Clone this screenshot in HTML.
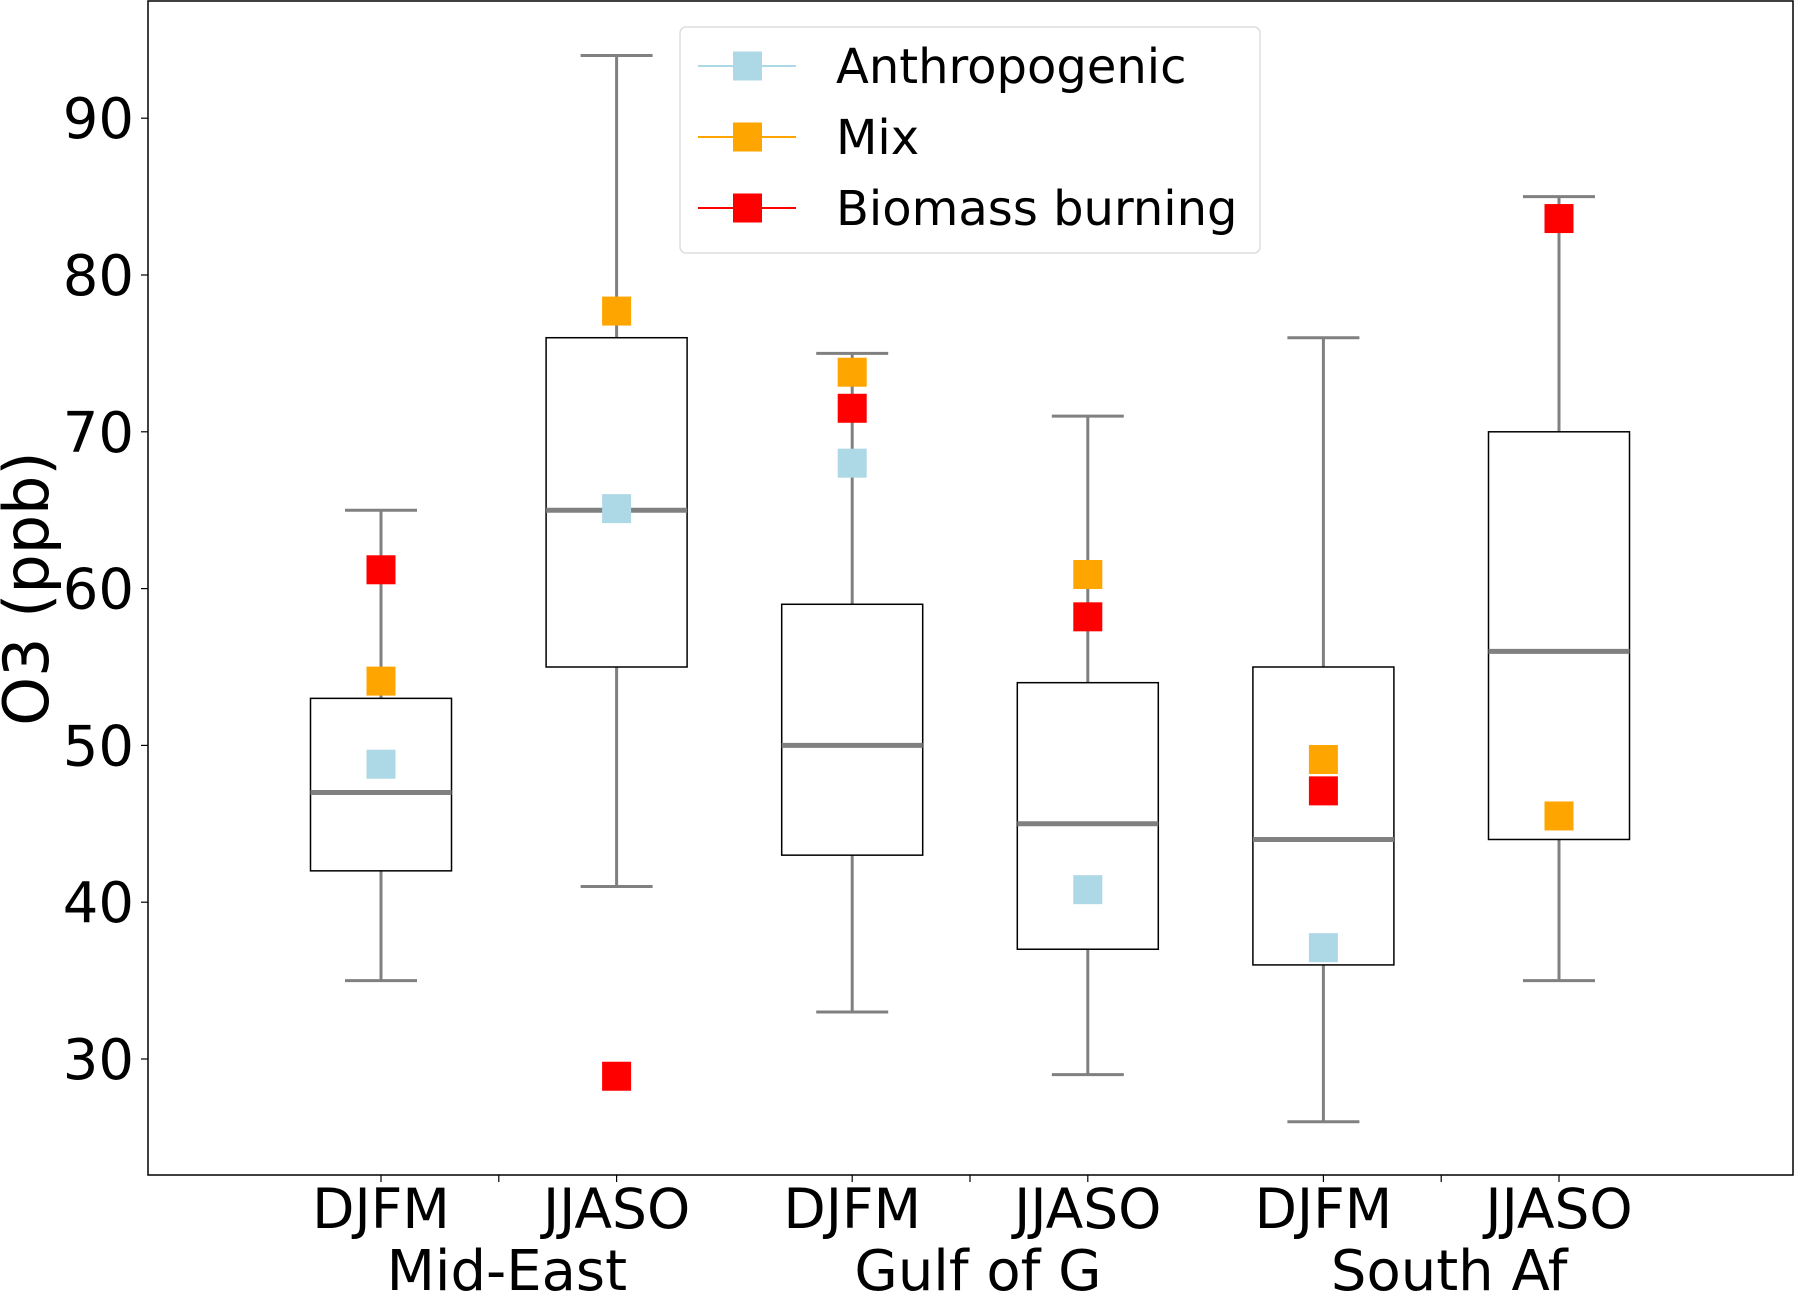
<!DOCTYPE html>
<html><head><meta charset="utf-8"><style>
body{margin:0;background:#fff}
svg{display:block;font-family:"DejaVu Sans","Liberation Sans",sans-serif}
</style></head><body>
<svg id="chart" width="1795" height="1292"></svg>
<script>
const categories=["DJFM","JJASO","DJFM","JJASO","DJFM","JJASO"];
const groups=["Mid-East","Gulf of G","South Af"];
const whiskerLow=[35,41,33,29,26,35];
const q1=[42,55,43,37,36,44];
const medians=[47,65,50,45,44,56];
const q3=[53,76,59,54,55,70];
const whiskerHigh=[65,94,75,71,76,85];
const anthro=[48.8,65.1,68,40.8,37.1,null];
const mix=[54.1,77.7,73.8,60.9,49.1,45.5];
const biomass=[61.2,28.9,71.5,58.2,47.1,83.6];
const yTicks=[30,40,50,60,70,80,90];
const NS="http://www.w3.org/2000/svg";
const svg=document.getElementById('chart');
const L=148,R=1793,T=1,B=1175;
function y(v){return 1059-(v-30)*15.68;}
function x(i){return 381+i*235.6;}
function mk(tag,attrs,parent){const e=document.createElementNS(NS,tag);for(const k in attrs)e.setAttribute(k,attrs[k]);(parent||svg).appendChild(e);return e;}
const frame=mk('rect',{x:L,y:T,width:R-L,height:B-T,fill:'none',stroke:'#000','stroke-width':1.5});


yTicks.forEach(t=>{
 const ln=mk('line',{x1:L-7,x2:L,y1:y(t),y2:y(t),stroke:'#000','stroke-width':1.2});
 
 
 const tx=mk('text',{x:L-14,y:y(t)+20,'text-anchor':'end','font-size':56});
 tx.textContent=t;
 
 
});
const yl=mk('text',{x:0,y:0,'text-anchor':'middle','font-size':62,transform:`translate(48,${y(60)}) rotate(-90)`});
yl.textContent='O3 (ppb)';


const bw=141;
categories.forEach((c,i)=>{
 const cx=x(i);
 const g=mk('g',{});
 
 
 mk('line',{x1:cx,x2:cx,y1:y(whiskerLow[i]),y2:y(q1[i]),stroke:'#808080','stroke-width':3},g);
 mk('line',{x1:cx,x2:cx,y1:y(q3[i]),y2:y(whiskerHigh[i]),stroke:'#808080','stroke-width':3},g);
 mk('line',{x1:cx-36,x2:cx+36,y1:y(whiskerLow[i]),y2:y(whiskerLow[i]),stroke:'#808080','stroke-width':3},g);
 mk('line',{x1:cx-36,x2:cx+36,y1:y(whiskerHigh[i]),y2:y(whiskerHigh[i]),stroke:'#808080','stroke-width':3},g);
 mk('rect',{x:cx-bw/2,y:y(q3[i]),width:bw,height:y(q1[i])-y(q3[i]),fill:'none',stroke:'#000','stroke-width':1.5},g);
 mk('line',{x1:cx-bw/2,x2:cx+bw/2,y1:y(medians[i]),y2:y(medians[i]),stroke:'#808080','stroke-width':5},g);
 const tk=mk('line',{x1:cx,x2:cx,y1:B,y2:B+7,stroke:'#000','stroke-width':1.2});
 
 
 const tl=mk('text',{x:cx,y:1228,'text-anchor':'middle','font-size':55});
 tl.textContent=c;
 
 
 [[anthro,'#add8e6','anthropogenic-marker'],[mix,'#ffa500','mix-marker'],[biomass,'#ff0000','biomass-marker']].forEach(([arr,col,nm])=>{
  if(arr[i]==null)return;
  const m=mk('rect',{x:cx-14.5,y:y(arr[i])-14.5,width:29,height:29,fill:col});
  
  
 });
});
groups.forEach((gname,j)=>{
 const gx=(x(2*j)+x(2*j+1))/2;
 const tk=mk('line',{x1:gx,x2:gx,y1:B,y2:B+7,stroke:'#000','stroke-width':1.2});
 
 
 const t=mk('text',{x:gx+8,y:1290,'text-anchor':'middle','font-size':56});
 t.textContent=gname;
 
 
});
const lg=mk('g',{});


mk('rect',{x:680,y:27,width:580,height:226,rx:6,fill:'#fff','fill-opacity':0.8,stroke:'#ddd','stroke-width':1.5},lg);
[['Anthropogenic','#add8e6',66],['Mix','#ffa500',137],['Biomass burning','#ff0000',208]].forEach(([lab,col,ly])=>{
 const e=mk('g',{},lg);
 
 
 mk('line',{x1:698,x2:796,y1:ly,y2:ly,stroke:col,'stroke-width':2},e);
 mk('rect',{x:733,y:ly-14.5,width:29,height:29,fill:col},e);
 const t=mk('text',{x:836,y:ly+17,'font-size':48},e);
 t.textContent=lab;
});
</script>
</body></html>
